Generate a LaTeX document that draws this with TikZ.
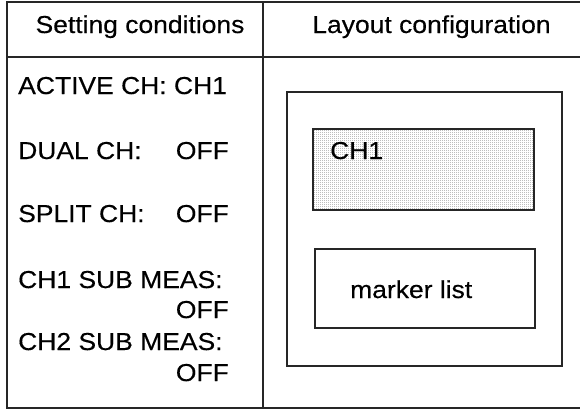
\documentclass[tikz,border=0pt]{standalone}
\usepackage{fontspec}
\setmainfont{Liberation Sans}[FakeStretch=1.08,FakeBold=0.35]
\usetikzlibrary{patterns.meta}
\tikzdeclarepattern{
  name=finedots,
  type=uncolored,
  bottom left={(0pt,0pt)},
  top right={(2pt,2pt)},
  tile size={(2pt,2pt)},
  code={\pgfpathrectangle{\pgfpointorigin}{\pgfpoint{1pt}{1pt}}\pgfusepath{fill}}
}
\tikzset{
  rule/.style={line width=1.4pt, black!85},
  txt/.style={inner sep=0pt, font=\fontsize{24.5}{28}\selectfont},
  frame/.style={line width=1.4pt, black!85},
}
\begin{document}
\begin{tikzpicture}[x=1pt,y=-1pt]
\useasboundingbox (0,0) rectangle (580,410);
% table
\draw[rule] (580,2) -- (7,2) -- (7,408) -- (580,408);
\draw[rule] (7,57) -- (580,57);
\draw[rule] (263,2) -- (263,408);
% headers
\node[txt, anchor=base] (h1) at (140,33) {Setting conditions};
\node[txt, anchor=base] (h2) at (431.5,33) {Layout configuration};
% left column
\node[txt, anchor=base west] (active) at (18,94) {ACTIVE CH: CH1};
\node[txt, anchor=base west] (dual) at (18,159) {DUAL CH:};
\node[txt, anchor=base east] (dualv) at (229,159) {OFF};
\node[txt, anchor=base west] (split) at (18,222) {SPLIT CH:};
\node[txt, anchor=base east] (splitv) at (229,222) {OFF};
\node[txt, anchor=base west] (sub1) at (18,288) {CH1 SUB MEAS:};
\node[txt, anchor=base east] (sub1v) at (229,318) {OFF};
\node[txt, anchor=base west] (sub2) at (18,350) {CH2 SUB MEAS:};
\node[txt, anchor=base east] (sub2v) at (229,381) {OFF};
% layout
\draw[frame] (287,92) rectangle (562,366);
\fill[pattern=finedots, pattern color=black!60] (313,129) rectangle (534,210);
\draw[frame] (313,129) rectangle (534,210);
\node[txt, anchor=base west] (ch1) at (330,159) {CH1};
\draw[frame] (315,249) rectangle (535,328);
\node[txt, anchor=base west] (marker) at (350,298) {marker list};
\end{tikzpicture}
\end{document}
